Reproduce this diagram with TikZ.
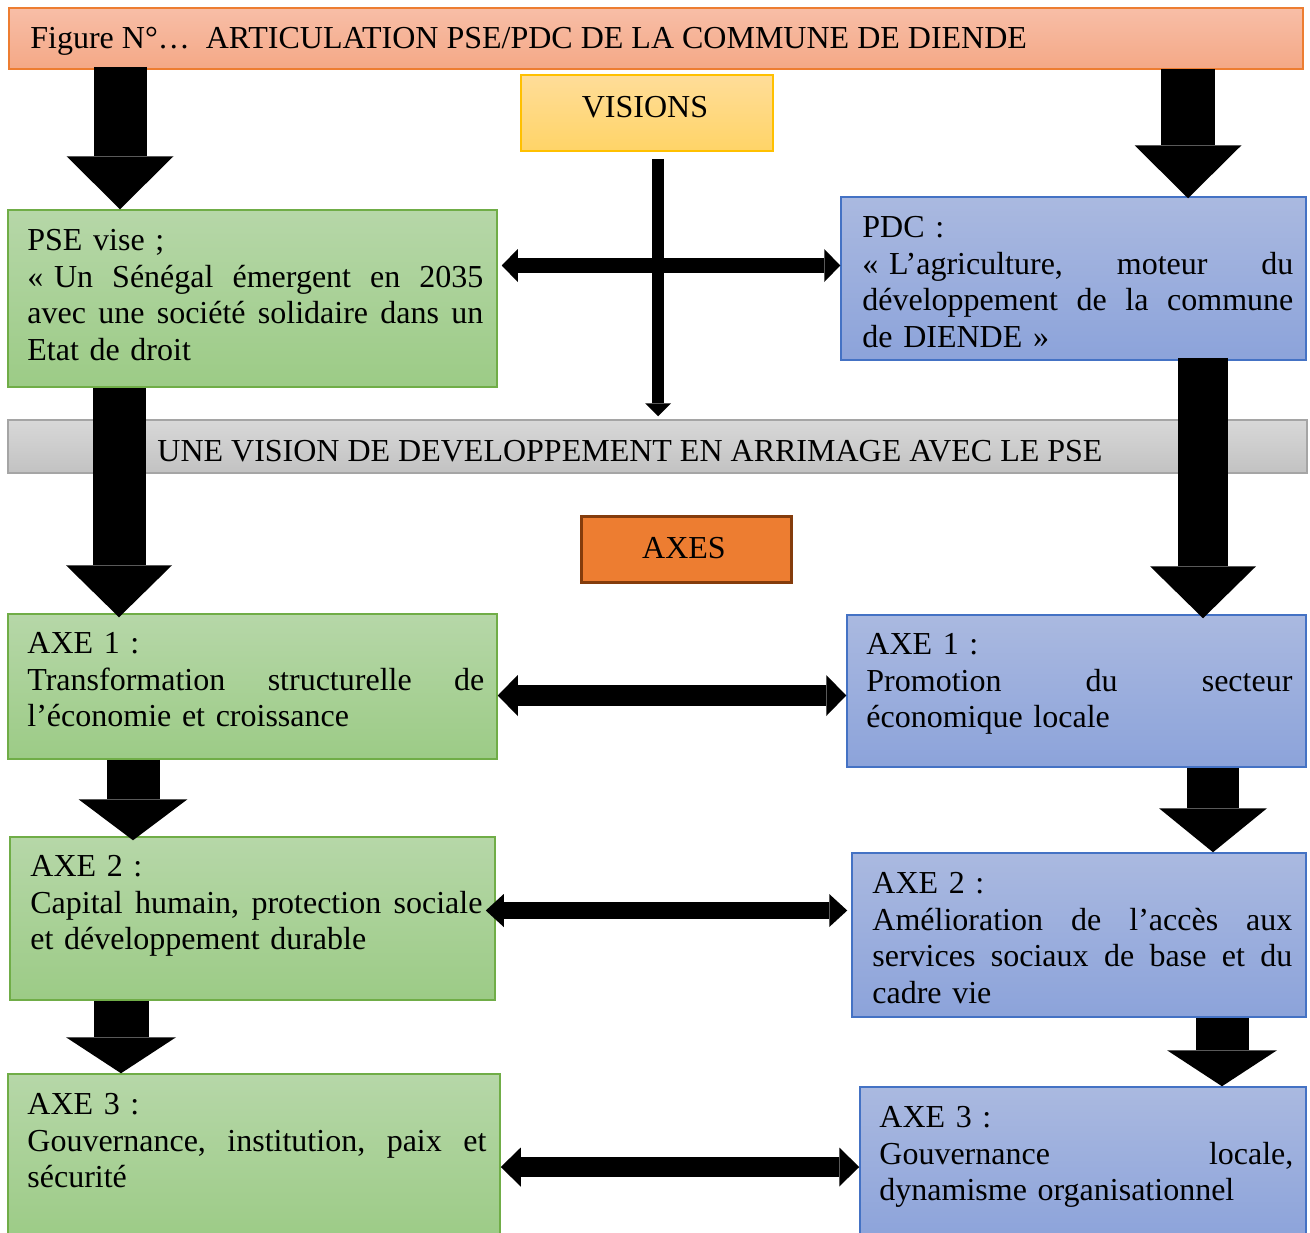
\documentclass[tikz,border=0pt]{standalone}
\usepackage{fontspec}
\setmainfont{Liberation Serif}
\usetikzlibrary{arrows.meta,fit}
\definecolor{titleT}{HTML}{F8BEA7}
\definecolor{titleB}{HTML}{F4A886}
\definecolor{titleD}{HTML}{ED7D31}
\definecolor{visT}{HTML}{FFDD99}
\definecolor{visB}{HTML}{FFD467}
\definecolor{visD}{HTML}{FFC000}
\definecolor{grT}{HTML}{B6D7A8}
\definecolor{grB}{HTML}{9CCB86}
\definecolor{grD}{HTML}{70AD47}
\definecolor{blT}{HTML}{AAB9E0}
\definecolor{blB}{HTML}{8CA3DA}
\definecolor{blD}{HTML}{4472C4}
\definecolor{gyT}{HTML}{D8D8D8}
\definecolor{gyB}{HTML}{C2C2C2}
\definecolor{gyD}{HTML}{A5A5A5}
\definecolor{axF}{HTML}{ED7D31}
\definecolor{axD}{HTML}{843C0C}
\newcommand{\jsp}{\hfill\ }
\begin{document}
\begin{tikzpicture}[x=0.5pt,y=-0.5pt,
  box/.style={rectangle, inner sep=0pt, line width=0.75pt},
  titlebox/.style={box, draw=titleD, top color=titleT, bottom color=titleB},
  visbox/.style={box, draw=visD, top color=visT, bottom color=visB},
  greenbox/.style={box, draw=grD, top color=grT, bottom color=grB},
  bluebox/.style={box, draw=blD, top color=blT, bottom color=blB},
  greybox/.style={box, draw=gyD, top color=gyT, bottom color=gyB},
  axesbox/.style={box, draw=axD, fill=axF, line width=1.5pt},
  txtfont/.style={font=\fontsize{16pt}{18.35pt}\selectfont},
  txt/.style={txtfont, inner sep=0pt, anchor=north west, align=left},
  fatd/.style n args={3}{draw=black, line width=#1, -{Triangle[length=#3, width=#2, line width=0pt]}},
  fatdd/.style n args={3}{draw=black, line width=#1, {Triangle[length=#3, width=#2, line width=0pt]}-{Triangle[length=#3, width=#2, line width=0pt]}}
]
\useasboundingbox (0,0) rectangle (1310,1232);
\fill[white] (0,0) rectangle (1310,1232);

% boxes
\node[titlebox, fit={(9,8) (1303,69)}] (title) {};
\node[visbox, fit={(521,75) (773,151)}] (visions) {};
\node[greenbox, fit={(8,210) (497,387)}] (pse) {};
\node[bluebox, fit={(841,197) (1306,360)}] (pdc) {};
\node[greybox, fit={(8,420) (1307,473)}] (band) {};
\node[axesbox, fit={(581,516) (791,582)}] (axes) {};
\node[greenbox, fit={(8,614) (497,759)}] (a1l) {};
\node[bluebox, fit={(847,615) (1306,767)}] (a1r) {};
\node[greenbox, fit={(10,837) (495,1000)}] (a2l) {};
\node[bluebox, fit={(852,853) (1306,1017)}] (a2r) {};
\node[greenbox, fit={(8,1074) (500,1240)}] (a3l) {};
\node[bluebox, fit={(860,1087) (1306,1240)}] (a3r) {};

% texts
\node[txtfont, inner sep=0pt, anchor=base west] (title-t) at (30,48) {Figure N°…\ \ ARTICULATION PSE/PDC DE LA COMMUNE DE DIENDE};
\node[txtfont, inner sep=0pt, anchor=base] (visions-t) at (645,117) {VISIONS};
\node[txtfont, inner sep=0pt, anchor=base west] (band-t) at (157,461) {UNE VISION DE DEVELOPPEMENT EN ARRIMAGE AVEC LE PSE};
\node[txtfont, inner sep=0pt, anchor=base] (axes-t) at (684,558) {AXES};

\node[txt, text width=228pt] (pse-t) at (27,222) {\rule{0pt}{14pt}PSE vise ;\\
\mbox{« Un}\jsp Sénégal\jsp émergent\jsp en\jsp 2035\\
avec\jsp une\jsp société\jsp solidaire\jsp dans\jsp un\\
Etat de droit};
\node[txt, text width=215.5pt] (pdc-t) at (862,209) {\rule{0pt}{14pt}PDC :\\
\mbox{« L’agriculture,}\jsp moteur\jsp du\\
développement\jsp de\jsp la\jsp commune\\
de DIENDE »};
\node[txt, text width=228.5pt] (a1l-t) at (27,625) {\rule{0pt}{14pt}AXE 1 :\\
Transformation\jsp structurelle\jsp de\\
l’économie et croissance};
\node[txt, text width=213pt] (a1r-t) at (866,626) {\rule{0pt}{14pt}AXE 1 :\\
Promotion\jsp du\jsp secteur\\
économique locale};
\node[txt, text width=226pt] (a2l-t) at (30,848) {\rule{0pt}{14pt}AXE 2 :\\
Capital\jsp humain,\jsp protection\jsp sociale\\
et développement durable};
\node[txt, text width=210pt] (a2r-t) at (872,865) {\rule{0pt}{14pt}AXE 2 :\\
Amélioration\jsp de\jsp l’accès\jsp aux\\
services\jsp sociaux\jsp de\jsp base\jsp et\jsp du\\
cadre vie};
\node[txt, text width=229.5pt] (a3l-t) at (27,1086) {\rule{0pt}{14pt}AXE 3 :\\
Gouvernance,\jsp institution,\jsp paix\jsp et\\
sécurité};
\node[txt, text width=207pt] (a3r-t) at (879,1099) {\rule{0pt}{14pt}AXE 3 :\\
Gouvernance\jsp locale,\\
dynamisme organisationnel};

% fat arrows
\draw[fatd={26.5pt}{53.5pt}{26.5pt}] ([yshift=1.5pt]title.south -| 120,0) -- (pse.north -| 120,0);
\draw[fatd={27pt}{53.5pt}{26.5pt}] ([yshift=0.5pt]title.south -| 1188,0) -- ([yshift=-1pt]pdc.north -| 1188,0);
\draw[fatd={6pt}{13pt}{6.5pt}] ([yshift=-3.5pt]visions.south -| 658,0) -- ([yshift=1.5pt]band.north -| 658,0);
\draw[fatdd={7.5pt}{16.5pt}{8pt}] ([xshift=2pt]pse.east |- 0,265.5) -- (pdc.west |- 0,265.5);
\draw[fatd={26.5pt}{53pt}{26pt}] (pse.south -| 119,0) -- ([yshift=-2pt]a1l.north -| 119,0);
\draw[fatd={25pt}{53pt}{26pt}] ([yshift=1.5pt]pdc.south -| 1203,0) -- ([yshift=-2pt]a1r.north -| 1203,0);
\draw[fatdd={10.5pt}{20.5pt}{10pt}] (a1l.east |- 0,695.5) -- (a1r.west |- 0,695.5);
\draw[fatd={26.5pt}{54.5pt}{20.5pt}] (a1l.south -| 133,0) -- ([yshift=-2pt]a2l.north -| 133,0);
\draw[fatd={26pt}{54pt}{22pt}] (a1r.south -| 1213,0) -- (a2r.north -| 1213,0);
\draw[fatdd={8.5pt}{16.5pt}{9pt}] ([xshift=-5pt]a2l.east |- 0,910.5) -- ([xshift=-2pt]a2r.west |- 0,910.5);
\draw[fatd={27.5pt}{55pt}{18pt}] (a2l.south -| 121,0) -- (a3l.north -| 121,0);
\draw[fatd={26.5pt}{55pt}{18pt}] (a2r.south -| 1222,0) -- (a3r.north -| 1222,0);
\draw[fatdd={10pt}{19.5pt}{10pt}] (a3l.east |- 0,1167) -- (a3r.west |- 0,1167);
\end{tikzpicture}
\end{document}
